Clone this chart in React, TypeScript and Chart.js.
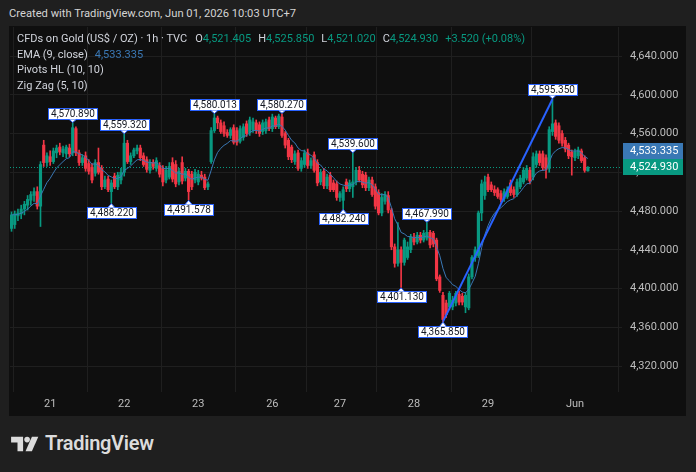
import React, { useEffect, useRef } from 'react';
import { Chart, registerables } from 'chart.js';
Chart.register(...registerables);

// ---- data (hourly candles) ----
const opens = [4462,4466,4475,4477,4482,4486,4491,4496,4500,4485,4548,4530,4536,4531,4540,4546,4540,4539,4545,4540,4565,4540,4530,4537,4529,4525,4519,4530,4524,4505,4513,4500,4516,4505,4512,4520,4550,4531,4537,4542,4545,4537,4533,4522,4530,4524,4527,4524,4512,4515,4530,4528,4510,4530,4514,4521,4518,4512,4510,4517,4515,4505,4531,4563,4576,4571,4568,4561,4558,4566,4563,4552,4556,4570,4561,4564,4571,4569,4562,4563,4574,4565,4576,4567,4577,4560,4553,4546,4531,4540,4524,4528,4540,4527,4538,4530,4510,4521,4506,4517,4509,4508,4494,4491,4510,4503,4505,4510,4522,4518,4517,4504,4512,4505,4499,4478,4490,4496,4481,4443,4426,4440,4427,4432,4440,4453,4448,4455,4450,4452,4458,4457,4450,4412,4393,4385,4381,4381,4385,4394,4392,4381,4380,4412,4432,4434,4478,4496,4515,4507,4502,4502,4498,4493,4495,4509,4502,4497,4505,4510,4514,4522,4515,4528,4539,4539,4535,4524,4562,4571,4568,4560,4553,4548,4541,4535,4537,4542,4535,4521.405];
const highs = [4479,4480,4482,4486,4490,4496,4500,4504,4505,4531,4553,4540,4542,4545,4548,4550,4547,4548,4549,4570.89,4567,4543,4538,4541,4533,4529,4533,4545,4527,4516,4516,4512,4519,4520,4524,4559.32,4553,4540,4545,4548,4548,4540,4536,4533,4533,4535,4530,4527,4526,4530,4535,4532,4524,4536,4524,4523,4521,4523,4522,4521,4518,4510,4566,4580.013,4578,4574,4572,4564,4566,4569,4566,4568,4570,4573,4577,4576,4574,4572,4574,4575,4577,4580,4578,4580,4580.27,4562,4555,4548,4542,4543,4535,4543,4544,4535,4541,4533,4523,4524,4518,4520,4512,4511,4500,4505,4513,4512,4539.6,4525,4526,4521,4520,4515,4515,4508,4502,4498,4500,4500,4483,4446,4468,4443,4452,4448,4456,4457,4458,4458,4460,4467.99,4460,4459,4452,4414,4396,4388,4397,4392,4397,4397,4395,4396,4415,4434,4443,4480,4512,4516,4518,4510,4506,4504,4501,4503,4505,4512,4505,4513,4517,4525,4527,4525,4540,4542,4542,4542,4538,4567,4595.35,4574,4571,4563,4556,4550,4543,4544,4546,4544,4537,4525.85];
const lows = [4459,4462,4470,4472,4476,4481,4486,4490,4482,4464,4526,4526,4527,4529,4535,4538,4536,4535,4536,4537,4537,4527,4527,4521,4518,4509,4516,4518,4502,4503,4500,4488.22,4503,4502,4508,4516,4529,4528,4535,4539,4532,4526,4520,4519,4523,4521,4515,4506,4509,4513,4510,4505,4507,4508,4511,4491.578,4502,4509,4507,4512,4502,4502,4529,4561,4565,4560,4557,4556,4555,4549,4548,4550,4553,4557,4558,4561,4560,4557,4559,4560,4563,4562,4565,4565,4556,4545,4533,4530,4528,4522,4521,4525,4524,4524,4520,4506,4507,4503,4503,4500,4500,4491,4490,4482.24,4500,4500,4494,4507,4510,4504,4501,4501,4495,4482,4476,4475,4487,4478,4440,4422,4423,4401.13,4424,4430,4437,4445,4446,4447,4448,4450,4442,4443,4408,4396,4365.85,4370,4378,4378,4382,4383,4383,4375,4378,4410,4428,4432,4470,4492,4500,4500,4496,4493,4489,4490,4493,4496,4494,4495,4503,4508,4512,4508,4512,4525,4527,4522,4514,4520,4558,4554,4550,4547,4541,4534,4517,4532,4534,4530,4520,4521.02];
const closes = [4476,4477,4478,4482,4487,4492,4497,4500,4485,4528,4530,4537,4531,4542,4545,4541,4544,4546,4539,4566,4540,4530,4535,4524,4521,4512,4530,4520,4505,4512,4502,4509,4505,4517,4520,4550,4531,4537,4543,4545,4535,4528,4523,4530,4526,4532,4518,4510,4522,4526,4513,4508,4521,4511,4521,4500,4505,4520,4518,4514,4504,4508,4563,4576,4571,4562,4560,4558,4564,4551,4551,4565,4567,4560,4574,4572,4563,4560,4571,4572,4565,4577,4567,4578,4558,4548,4536,4533,4539,4524,4532,4540,4527,4532,4522,4509,4520,4506,4515,4502,4502,4494,4498,4502,4503,4509,4510,4522,4512,4507,4504,4512,4497,4485,4478,4494,4497,4481,4443,4426,4440,4427,4450,4443,4453,4448,4455,4450,4457,4458,4445,4446,4410,4398,4368,4373,4395,4388,4395,4386,4386,4393,4412,4432,4440,4478,4508,4510,4502,4502,4499,4495,4492,4500,4502,4499,4497,4510,4514,4522,4524,4511,4536,4539,4530,4525,4523,4564,4570,4557,4553,4550,4544,4537,4536,4541,4543,4532,4522,4524.93];

const dayTickIdx = [12, 35, 58, 81, 102, 125, 148, 175];
const dayLabels = ['21', '22', '23', '26', '27', '28', '29', 'Jun'];
const priceTicks = [4320, 4360, 4400, 4440, 4480, 4520, 4560, 4600, 4640];

const pivotIdx = [19, 31, 35, 55, 63, 84, 103, 106, 121, 129, 134, 168];
const pivotPrices = [4570.89, 4488.22, 4559.32, 4491.578, 4580.013, 4580.27, 4482.24, 4539.6, 4401.13, 4467.99, 4365.85, 4595.35];
const pivotIsHigh = [true, false, true, false, true, true, false, true, false, true, false, true];

const zigzagIdx = [134, 168];
const zigzagPrices = [4365.85, 4595.35];

const emaLength = 9;
const emaLastValue = 4533.335;

const UP = '#089981';
const DOWN = '#f23645';
const EMA_COLOR = '#3a78b5';
const ZZ_COLOR = '#2962ff';
const FONT = 'Roboto, "Noto Sans", sans-serif';

const fmt = (v: number) => v.toLocaleString('en-US', { minimumFractionDigits: 3, maximumFractionDigits: 3 });

function computeEma(src: number[], len: number) {
  const a = 2 / (len + 1);
  const out: number[] = [];
  let prev = src[0];
  src.forEach((v, i) => {
    prev = i === 0 ? v : a * v + (1 - a) * prev;
    out.push(prev);
  });
  return out;
}

function pointerPath(ctx: CanvasRenderingContext2D, px: number, py: number, by: number, bh: number, high: boolean) {
  ctx.beginPath();
  if (high) {
    ctx.moveTo(px - 3.5, by + bh);
    ctx.lineTo(px, py - 0.5);
    ctx.lineTo(px + 3.5, by + bh);
  } else {
    ctx.moveTo(px - 3.5, by);
    ctx.lineTo(px, py + 0.5);
    ctx.lineTo(px + 3.5, by);
  }
}

const overlayPlugin = {
  id: 'tvOverlay',
  beforeDatasetsDraw(chart: any) {
    const { ctx, chartArea, scales } = chart;
    const yc = scales.y.getPixelForValue(closes[closes.length - 1]);
    ctx.save();
    ctx.strokeStyle = UP;
    ctx.lineWidth = 1;
    ctx.setLineDash([1, 2]);
    ctx.beginPath();
    ctx.moveTo(chartArea.left, Math.round(yc) + 0.5);
    ctx.lineTo(chartArea.right, Math.round(yc) + 0.5);
    ctx.stroke();
    ctx.restore();
  },
  afterDatasetsDraw(chart: any) {
    const { ctx, scales } = chart;
    const { x, y } = scales;
    ctx.save();
    ctx.font = `10px ${FONT}`;
    ctx.textAlign = 'center';
    ctx.textBaseline = 'middle';
    pivotIdx.forEach((idx, k) => {
      const px = x.getPixelForValue(idx);
      const py = y.getPixelForValue(pivotPrices[k]);
      const text = fmt(pivotPrices[k]);
      const tw = ctx.measureText(text).width;
      const bw = Math.round(tw + 5);
      const bh = 11;
      const high = pivotIsHigh[k];
      const bx = Math.round(px - bw / 2) + 0.5;
      const by = Math.round(high ? py - 4 - bh : py + 4) + 0.5;
      ctx.fillStyle = '#ffffff';
      ctx.strokeStyle = ZZ_COLOR;
      ctx.lineWidth = 1;
      ctx.fillRect(bx, by, bw, bh);
      ctx.strokeRect(bx, by, bw, bh);
      pointerPath(ctx, px, py, by, bh, high);
      ctx.closePath();
      ctx.fill();
      pointerPath(ctx, px, py, by, bh, high);
      ctx.stroke();
      ctx.fillStyle = '#131722';
      ctx.fillText(text, bx + bw / 2, by + bh / 2 + 0.5);
    });
    ctx.restore();
  },
  afterDraw(chart: any) {
    const { ctx, chartArea, scales } = chart;
    const yc = scales.y.getPixelForValue(closes[closes.length - 1]);
    let ye = scales.y.getPixelForValue(emaLastValue);
    const h = 16;
    if (ye > yc - h) ye = yc - h;
    const left = chartArea.right + 1;
    const w = 60;
    ctx.save();
    ctx.font = `11px ${FONT}`;
    ctx.textBaseline = 'middle';
    ctx.textAlign = 'left';
    ctx.fillStyle = EMA_COLOR;
    ctx.fillRect(left, Math.round(ye - h / 2), w, h);
    ctx.fillStyle = '#ffffff';
    ctx.fillText(fmt(emaLastValue), chartArea.right + 8, Math.round(ye) + 0.5);
    ctx.fillStyle = UP;
    ctx.fillRect(left, Math.round(yc - h / 2), w, h);
    ctx.fillStyle = '#ffffff';
    ctx.fillText(fmt(closes[closes.length - 1]), chartArea.right + 8, Math.round(yc) + 0.5);
    ctx.restore();
  },
};

function CandleChart() {
  const ref = useRef<HTMLCanvasElement | null>(null);
  useEffect(() => {
    if (!ref.current) return;
    const idx = closes.map((_, i) => i);
    const colors = idx.map((i) => (closes[i] >= opens[i] ? UP : DOWN));
    const ema = computeEma(closes, emaLength);
    const chart = new Chart(ref.current, {
      type: 'bar',
      data: {
        datasets: [
          {
            type: 'line',
            label: 'Zig Zag',
            data: zigzagIdx.map((i, k) => ({ x: i, y: zigzagPrices[k] })),
            borderColor: ZZ_COLOR,
            borderWidth: 2,
            pointRadius: 0,
            order: 0,
          } as any,
          {
            type: 'line',
            label: 'EMA',
            data: idx.map((i) => ({ x: i, y: ema[i] })),
            borderColor: EMA_COLOR,
            borderWidth: 1,
            pointRadius: 0,
            tension: 0,
            order: 1,
          } as any,
          {
            label: 'bodies',
            data: idx.map((i) => ({ x: i, y: [opens[i], closes[i]] })),
            backgroundColor: colors,
            barThickness: 2.5,
            minBarLength: 1,
            grouped: false,
            order: 2,
          } as any,
          {
            label: 'wicks',
            data: idx.map((i) => ({ x: i, y: [lows[i], highs[i]] })),
            backgroundColor: colors,
            barThickness: 1,
            grouped: false,
            order: 3,
          } as any,
        ],
      },
      options: {
        responsive: false,
        animation: false,
        events: [],
        layout: { padding: 0, autoPadding: false } as any,
        plugins: { legend: { display: false }, tooltip: { enabled: false } },
        scales: {
          x: {
            type: 'linear',
            min: -0.47,
            max: 189.6,
            offset: false,
            afterBuildTicks: (s: any) => {
              s.ticks = dayTickIdx.map((v) => ({ value: v }));
            },
            afterFit: (s: any) => {
              s.height = 24;
              s.paddingLeft = 0;
              s.paddingRight = 0;
            },
            ticks: {
              autoSkip: false,
              maxRotation: 0,
              padding: 6,
              color: '#bdbdbd',
              font: { family: FONT, size: 11 },
              callback: (_v: any, i: number) => dayLabels[i],
            },
            grid: { color: '#1f1f1f', drawTicks: false },
            border: { display: false },
          },
          y: {
            type: 'linear',
            position: 'right',
            min: 4293.17,
            max: 4669.94,
            afterBuildTicks: (s: any) => {
              s.ticks = priceTicks.map((v) => ({ value: v }));
            },
            afterFit: (s: any) => {
              s.width = 64;
              s.paddingTop = 0;
              s.paddingBottom = 0;
            },
            ticks: {
              padding: 8,
              color: '#bdbdbd',
              font: { family: FONT, size: 11 },
              callback: (v: any) => fmt(Number(v)),
            },
            grid: { color: '#1f1f1f', drawTicks: false },
            border: { display: false },
          },
        },
      },
      plugins: [overlayPlugin],
    } as any);
    return () => chart.destroy();
  }, []);
  return <canvas ref={ref} width={676} height={389} style={{ position: 'absolute', left: 10, top: 27 }} />;
}

export default function App() {
  const txt = '#d1d4dc';
  const lineStyle: React.CSSProperties = { height: 15.6, lineHeight: '16px', whiteSpace: 'pre' };
  return (
    <div style={{ position: 'fixed', left: 0, top: 0, width: 696, height: 472, background: '#1f1f1f', fontFamily: FONT, overflow: 'hidden' }}>
      <div style={{ position: 'absolute', left: 9, top: 6, fontSize: 11.2, lineHeight: '16px', color: '#d4d4d4', whiteSpace: 'pre' }}>
        Created with TradingView.com, Jun 01, 2026 10:03 UTC+7
      </div>
      <div style={{ position: 'absolute', left: 9, top: 26, width: 677, height: 390, background: '#0f0f0f' }} />
      <CandleChart />
      <div style={{ position: 'absolute', left: 17, top: 31, fontSize: 11, color: txt }}>
        <div style={lineStyle}>
          <span>CFDs on Gold (US$ / OZ) · 1h · TVC</span>
          <span style={{ marginLeft: 8 }}>O</span><span style={{ color: UP }}>4,521.405</span>
          <span style={{ marginLeft: 7 }}>H</span><span style={{ color: UP }}>4,525.850</span>
          <span style={{ marginLeft: 7 }}>L</span><span style={{ color: UP }}>4,521.020</span>
          <span style={{ marginLeft: 7 }}>C</span><span style={{ color: UP }}>4,524.930</span>
          <span style={{ marginLeft: 7, color: UP }}>+3.520 (+0.08%)</span>
        </div>
        <div style={lineStyle}>
          <span>EMA (9, close)</span>
          <span style={{ marginLeft: 7, color: EMA_COLOR }}>4,533.335</span>
        </div>
        <div style={lineStyle}>Pivots HL (10, 10)</div>
        <div style={lineStyle}>Zig Zag (5, 10)</div>
      </div>
      <div style={{ position: 'absolute', left: 11, top: 434, display: 'flex', alignItems: 'center', color: '#dcdcdc' }}>
        <svg width={29} height={16} viewBox="0 0 36 20" style={{ display: 'block' }}>
          <path d="M0 1h15v18H8V8H0z" fill="#dcdcdc" />
          <circle cx={20} cy={4.5} r={3.5} fill="#dcdcdc" />
          <path d="M18 19h8l8-18h-8z" fill="#dcdcdc" />
        </svg>
        <span style={{ marginLeft: 5, fontSize: 20, fontWeight: 600, letterSpacing: -0.3, lineHeight: '19px' }}>TradingView</span>
      </div>
    </div>
  );
}
